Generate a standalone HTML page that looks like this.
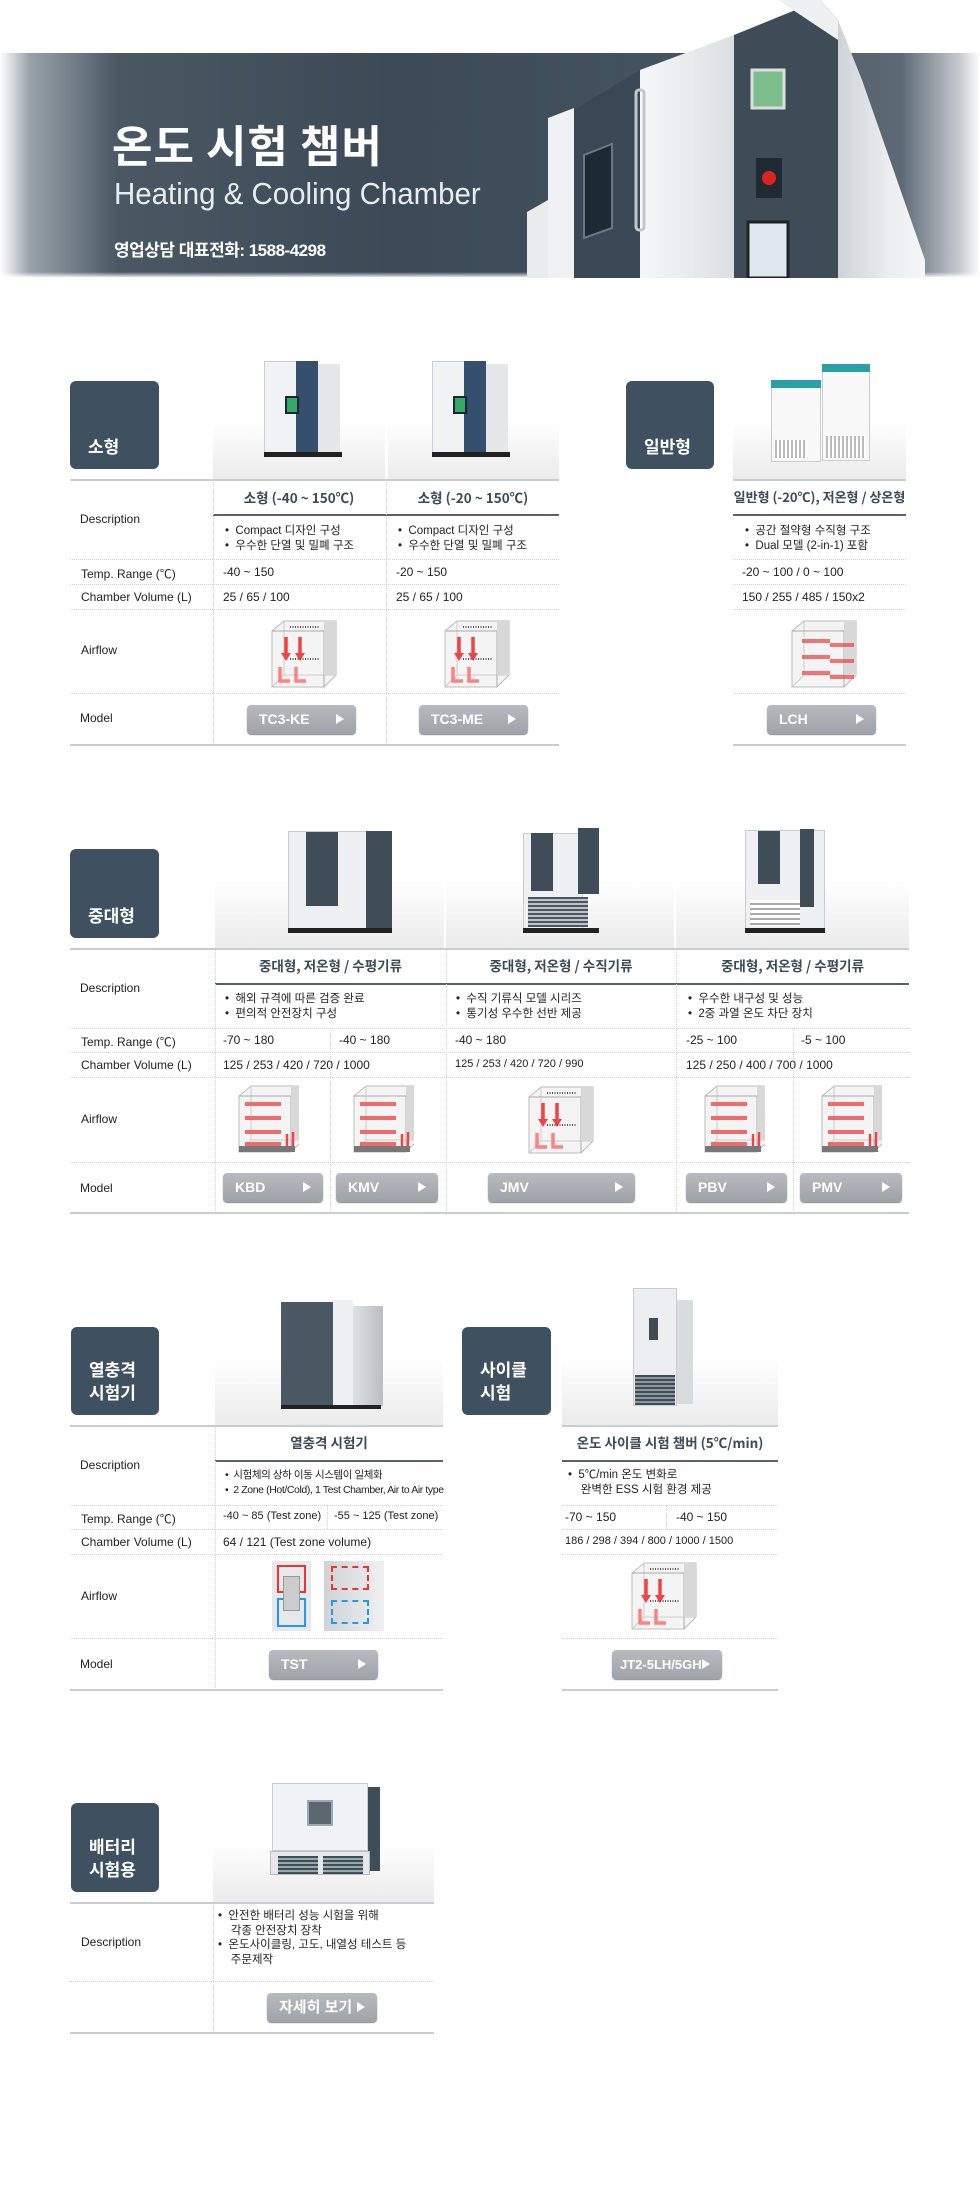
<!DOCTYPE html>
<html><head><meta charset="utf-8">
<style>
*{margin:0;padding:0;box-sizing:border-box}
body{width:980px;height:2200px;background:#fff;position:relative;overflow:hidden;font-family:"Liberation Sans","Noto Sans CJK KR",sans-serif;color:#222}
.a{position:absolute}
.box{position:absolute;background:#3f5060;border-radius:6px;color:#fff;font-weight:bold;font-size:17px;line-height:23px;padding:0 0 12px 18px;display:flex;flex-direction:column;justify-content:flex-end;font-family:"Noto Sans CJK KR",sans-serif}
.ln{position:absolute;height:2px;background:#c9ccd0}
.dk{position:absolute;height:2px;background:#56636f}
.dh{position:absolute;height:0;border-top:1px dotted #d4d4d4}
.dv{position:absolute;width:0;border-left:1px dotted #d4d4d4}
.lb{position:absolute;font-size:12px;color:#222}
.t{position:absolute;font-size:13.5px;color:#3b4a59;font-weight:bold;text-align:center;font-family:"Noto Sans CJK KR",sans-serif}
.d{position:absolute;font-size:11.5px;line-height:15px;color:#222;font-family:"Liberation Sans","Noto Sans CJK KR",sans-serif}
.v{position:absolute;font-size:12px;color:#222}
.btn{position:absolute;background:linear-gradient(#b7bbc0,#9ea3a9);border-radius:4px;color:#fff;font-weight:bold;font-size:14px;line-height:29px;padding-left:12px;box-shadow:0 1px 1px #888;font-family:"Liberation Sans","Noto Sans CJK KR",sans-serif}
.btn:after{content:"";position:absolute;right:12px;top:9px;border-left:8px solid #fff;border-top:5px solid transparent;border-bottom:5px solid transparent}
.img{position:absolute;background:linear-gradient(#fff 50%,#ebebeb)}
</style></head><body>

<!-- banner -->
<div class="a" style="left:0;top:53px;width:980px;height:224px;background:linear-gradient(90deg,#fff 0,#9aa3ab 3%,#4a5864 12%,#3c4a57 40%,#465562 75%,#5d6a76 92%,#c8ccd0 98%,#fff 100%)"></div>
<div class="a" style="left:0;top:272px;width:980px;height:6px;background:linear-gradient(#fff0,#fff)"></div>
<svg class="a" style="left:520px;top:0" width="420" height="278" viewBox="520 0 420 278">
<defs><linearGradient id="sd" x1="0" x2="1"><stop offset="0" stop-color="#cfd3d6"/><stop offset=".6" stop-color="#eceeef"/><stop offset="1" stop-color="#f5f6f7"/></linearGradient>
<linearGradient id="dr" x1="0" x2="1"><stop offset="0" stop-color="#f6f7f8"/><stop offset="1" stop-color="#dcdfe1"/></linearGradient></defs>
<polygon points="527,212 548,200 548,278 527,278" fill="#e9ebed"/>
<polygon points="548,118 574,108 574,278 548,278" fill="#f0f1f2"/>
<polygon points="574,110 640,70 640,278 574,278" fill="#3a4855"/>
<polygon points="584,155 612,144 612,228 584,238" fill="#1d2a35" stroke="#6a7885" stroke-width="2"/>
<polygon points="640,70 734,35 734,278 640,278" fill="url(#dr)"/>
<rect x="636" y="90" width="8" height="140" rx="3" fill="none" stroke="#c2c7cb" stroke-width="3"/>
<polygon points="734,35 820,0 838,20 838,278 734,278" fill="#3e4c58"/>
<rect x="752" y="70" width="32" height="38" fill="#7cbf8c" stroke="#ddd" stroke-width="3"/>
<rect x="756" y="158" width="26" height="40" fill="#1f2a33"/>
<circle cx="769" cy="178" r="7" fill="#d22"/>
<rect x="748" y="222" width="40" height="56" fill="#dfe8f0" stroke="#222" stroke-width="3"/>
<polygon points="838,20 862,80 925,260 925,278 838,278" fill="url(#sd)"/>
<polygon points="778,0 820,0 838,20 838,40" fill="#eef0f1"/>
</svg>
<div class="a" style="left:112px;top:115px;color:#fff;font-size:44px;font-weight:bold;font-family:'Noto Sans CJK KR',sans-serif;letter-spacing:1px;line-height:56px">온도 시험 챔버</div>
<div class="a" style="left:114px;top:176px;color:#e8ecef;font-size:31px;font-family:'Liberation Sans',sans-serif;transform:scaleX(.95);transform-origin:0 0;line-height:36px;white-space:nowrap">Heating &amp; Cooling Chamber</div>
<div class="a" style="left:114px;top:236px;color:#fff;font-size:17px;font-weight:bold;font-family:'Liberation Sans','Noto Sans CJK KR',sans-serif;letter-spacing:-.5px">영업상담 대표전화: 1588-4298</div>

<!-- ===== 소형 ===== -->
<div class="box" style="left:70px;top:381px;width:89px;height:88px">소형</div>
<div class="img" style="left:213px;top:361px;width:172px;height:119px"></div>
<div class="img" style="left:388px;top:361px;width:171px;height:119px"></div>
<div class="a" style="left:264px;top:361px;width:44px;height:95px;background:#f0f2f4;border:1px solid #ccd"></div><div class="a" style="left:296px;top:361px;width:22px;height:95px;background:#34506e"></div><div class="a" style="left:285px;top:396px;width:14px;height:18px;background:#3a6;border:2px solid #223"></div><div class="a" style="left:318px;top:364px;width:22px;height:90px;background:#e4e6e8"></div><div class="a" style="left:264px;top:452px;width:78px;height:5px;background:#222"></div>
<div class="a" style="left:432px;top:361px;width:44px;height:95px;background:#f0f2f4;border:1px solid #ccd"></div><div class="a" style="left:464px;top:361px;width:22px;height:95px;background:#34506e"></div><div class="a" style="left:453px;top:396px;width:14px;height:18px;background:#3a6;border:2px solid #223"></div><div class="a" style="left:486px;top:364px;width:22px;height:90px;background:#e4e6e8"></div><div class="a" style="left:432px;top:452px;width:78px;height:5px;background:#222"></div>

<div class="ln" style="left:70px;top:479px;width:489px"></div>
<div class="t" style="left:213px;top:487px;width:172px">소형 (-40 ~ 150℃)</div>
<div class="t" style="left:387px;top:487px;width:172px">소형 (-20 ~ 150℃)</div>
<div class="dk" style="left:213px;top:514px;width:346px"></div>
<div class="lb" style="left:80px;top:512px">Description</div>
<div class="d" style="left:225px;top:524px">•&nbsp; Compact 디자인 구성<br>•&nbsp; 우수한 단열 및 밀폐 구조</div>
<div class="d" style="left:398px;top:524px">•&nbsp; Compact 디자인 구성<br>•&nbsp; 우수한 단열 및 밀폐 구조</div>
<div class="dh" style="left:70px;top:559px;width:489px"></div>
<div class="lb" style="left:81px;top:565px">Temp. Range (℃)</div>
<div class="v" style="left:223px;top:565px">-40 ~ 150</div><div class="v" style="left:396px;top:565px">-20 ~ 150</div>
<div class="dh" style="left:70px;top:584px;width:489px"></div>
<div class="lb" style="left:81px;top:590px">Chamber Volume (L)</div>
<div class="v" style="left:223px;top:590px">25 / 65 / 100</div><div class="v" style="left:396px;top:590px">25 / 65 / 100</div>
<div class="dh" style="left:70px;top:609px;width:489px"></div>
<div class="lb" style="left:81px;top:643px">Airflow</div>
<div class="dh" style="left:70px;top:693px;width:489px"></div>
<div class="lb" style="left:80px;top:711px">Model</div>
<div class="btn" style="left:247px;top:705px;width:109px;height:29px">TC3-KE</div>
<div class="btn" style="left:419px;top:705px;width:109px;height:29px">TC3-ME</div>
<div class="dv" style="left:213px;top:480px;height:265px"></div>
<div class="dv" style="left:386px;top:480px;height:265px"></div>
<div class="ln" style="left:70px;top:744px;width:489px"></div>

<!-- 일반형 -->
<div class="box" style="left:626px;top:381px;width:88px;height:88px">일반형</div>
<div class="img" style="left:733px;top:361px;width:173px;height:119px"></div>
<div class="a" style="left:771px;top:380px;width:50px;height:82px;background:#f8f8f9;border:1px solid #ccc"></div><div class="a" style="left:771px;top:380px;width:50px;height:8px;background:#29a0a8"></div><div class="a" style="left:775px;top:440px;width:30px;height:18px;background:repeating-linear-gradient(90deg,#bbb 0 2px,#fff 2px 4px)"></div>
<div class="a" style="left:822px;top:364px;width:48px;height:97px;background:#f8f8f9;border:1px solid #ccc"></div><div class="a" style="left:822px;top:364px;width:48px;height:8px;background:#29a0a8"></div><div class="a" style="left:826px;top:436px;width:40px;height:22px;background:repeating-linear-gradient(90deg,#bbb 0 2px,#fff 2px 4px)"></div>
<div class="ln" style="left:733px;top:479px;width:173px"></div>
<div class="t" style="left:733px;top:487px;width:173px;font-size:13px">일반형 (-20℃), 저온형 / 상온형</div>
<div class="dk" style="left:733px;top:514px;width:173px"></div>
<div class="d" style="left:745px;top:524px">•&nbsp; 공간 절약형 수직형 구조<br>•&nbsp; Dual 모델 (2-in-1) 포함</div>
<div class="dh" style="left:733px;top:559px;width:173px"></div>
<div class="v" style="left:742px;top:565px">-20 ~ 100 / 0 ~ 100</div>
<div class="dh" style="left:733px;top:584px;width:173px"></div>
<div class="v" style="left:742px;top:590px">150 / 255 / 485 / 150x2</div>
<div class="dh" style="left:733px;top:609px;width:173px"></div>
<div class="dh" style="left:733px;top:693px;width:173px"></div>
<div class="btn" style="left:767px;top:705px;width:109px;height:29px">LCH</div>
<div class="ln" style="left:733px;top:744px;width:173px"></div>

<!-- ===== 중대형 ===== -->
<div class="box" style="left:70px;top:849px;width:89px;height:89px">중대형</div>
<div class="img" style="left:215px;top:812px;width:229px;height:137px"></div>
<div class="img" style="left:446px;top:812px;width:228px;height:137px"></div>
<div class="img" style="left:676px;top:812px;width:233px;height:137px"></div>
<div class="a" style="left:288px;top:831px;width:80px;height:100px;background:#eef0f1;border:1px solid #ccc"></div><div class="a" style="left:306px;top:832px;width:32px;height:74px;background:#3e4d57"></div><div class="a" style="left:366px;top:831px;width:26px;height:100px;background:#3e4d57"></div><div class="a" style="left:288px;top:928px;width:104px;height:5px;background:#222"></div>
<div class="a" style="left:523px;top:833px;width:60px;height:98px;background:#eef0f1;border:1px solid #ccc"></div><div class="a" style="left:531px;top:833px;width:22px;height:58px;background:#3e4d57"></div><div class="a" style="left:578px;top:828px;width:21px;height:66px;background:#3e4d57"></div><div class="a" style="left:528px;top:897px;width:60px;height:30px;background:repeating-linear-gradient(#4a5660 0 2px,#c0c4c8 2px 4px)"></div><div class="a" style="left:523px;top:928px;width:76px;height:5px;background:#222"></div>
<div class="a" style="left:745px;top:830px;width:80px;height:102px;background:#eef0f1;border:1px solid #ccc"></div><div class="a" style="left:758px;top:831px;width:22px;height:53px;background:#3e4d57"></div><div class="a" style="left:800px;top:829px;width:14px;height:78px;background:#3e4d57"></div><div class="a" style="left:750px;top:900px;width:50px;height:26px;background:repeating-linear-gradient(#fff 0 3px,#aaa 3px 5px)"></div><div class="a" style="left:745px;top:928px;width:80px;height:5px;background:#222"></div>
<div class="ln" style="left:70px;top:948px;width:839px"></div>
<div class="t" style="left:215px;top:955px;width:231px">중대형, 저온형 / 수평기류</div>
<div class="t" style="left:446px;top:955px;width:230px">중대형, 저온형 / 수직기류</div>
<div class="t" style="left:676px;top:955px;width:233px">중대형, 저온형 / 수평기류</div>
<div class="dk" style="left:215px;top:983px;width:694px"></div>
<div class="lb" style="left:80px;top:981px">Description</div>
<div class="d" style="left:225px;top:992px">•&nbsp; 해외 규격에 따른 검증 완료<br>•&nbsp; 편의적 안전장치 구성</div>
<div class="d" style="left:456px;top:992px">•&nbsp; 수직 기류식 모델 시리즈<br>•&nbsp; 통기성 우수한 선반 제공</div>
<div class="d" style="left:688px;top:992px">•&nbsp; 우수한 내구성 및 성능<br>•&nbsp; 2중 과열 온도 차단 장치</div>
<div class="dh" style="left:70px;top:1028px;width:839px"></div>
<div class="lb" style="left:81px;top:1033px">Temp. Range (℃)</div>
<div class="v" style="left:223px;top:1033px">-70 ~ 180</div><div class="v" style="left:339px;top:1033px">-40 ~ 180</div><div class="v" style="left:455px;top:1033px">-40 ~ 180</div><div class="v" style="left:686px;top:1033px">-25 ~ 100</div><div class="v" style="left:801px;top:1033px">-5 ~ 100</div>
<div class="dh" style="left:70px;top:1052px;width:839px"></div>
<div class="lb" style="left:81px;top:1058px">Chamber Volume (L)</div>
<div class="v" style="left:223px;top:1058px">125 / 253 / 420 / 720 / 1000</div><div class="v" style="left:455px;top:1058px;font-size:11px">125 / 253 / 420 / 720 / 990</div><div class="v" style="left:686px;top:1058px">125 / 250 / 400 / 700 / 1000</div>
<div class="dh" style="left:70px;top:1077px;width:839px"></div>
<div class="lb" style="left:81px;top:1112px">Airflow</div>
<div class="dh" style="left:70px;top:1162px;width:839px"></div>
<div class="lb" style="left:80px;top:1181px">Model</div>
<div class="btn" style="left:223px;top:1173px;width:100px;height:29px">KBD</div>
<div class="btn" style="left:336px;top:1173px;width:102px;height:29px">KMV</div>
<div class="btn" style="left:488px;top:1173px;width:147px;height:29px">JMV</div>
<div class="btn" style="left:686px;top:1173px;width:101px;height:29px">PBV</div>
<div class="btn" style="left:800px;top:1173px;width:102px;height:29px">PMV</div>
<div class="dv" style="left:215px;top:949px;height:264px"></div>
<div class="dv" style="left:330px;top:1028px;height:185px"></div>
<div class="dv" style="left:446px;top:949px;height:264px"></div>
<div class="dv" style="left:676px;top:949px;height:264px"></div>
<div class="dv" style="left:793px;top:1028px;height:185px"></div>
<div class="ln" style="left:70px;top:1212px;width:839px"></div>

<!-- ===== 열충격 ===== -->
<div class="box" style="left:71px;top:1327px;width:88px;height:88px">열충격<br>시험기</div>
<div class="img" style="left:215px;top:1290px;width:228px;height:136px"></div>
<div class="a" style="left:281px;top:1302px;width:52px;height:106px;background:#4a5964"></div><div class="a" style="left:333px;top:1300px;width:20px;height:108px;background:#eef0f1"></div><div class="a" style="left:353px;top:1306px;width:30px;height:100px;background:linear-gradient(90deg,#dfe2e4,#b9bec2)"></div><div class="a" style="left:281px;top:1405px;width:100px;height:4px;background:#222"></div>
<div class="ln" style="left:70px;top:1425px;width:373px"></div>
<div class="t" style="left:215px;top:1432px;width:228px">열충격 시험기</div>
<div class="dk" style="left:215px;top:1460px;width:228px"></div>
<div class="lb" style="left:80px;top:1458px">Description</div>
<div class="d" style="left:225px;top:1468px;font-size:10.5px;letter-spacing:-.4px">•&nbsp; 시험체의 상하 이동 시스템이 일체화<br>•&nbsp; 2 Zone (Hot/Cold), 1 Test Chamber, Air to Air type</div>
<div class="dh" style="left:70px;top:1505px;width:373px"></div>
<div class="lb" style="left:81px;top:1510px">Temp. Range (℃)</div>
<div class="v" style="left:223px;top:1510px;font-size:11px">-40 ~ 85 (Test zone)</div><div class="v" style="left:334px;top:1510px;font-size:11px">-55 ~ 125 (Test zone)</div>
<div class="dh" style="left:70px;top:1529px;width:373px"></div>
<div class="lb" style="left:81px;top:1535px">Chamber Volume (L)</div>
<div class="v" style="left:223px;top:1535px">64 / 121 (Test zone volume)</div>
<div class="dh" style="left:70px;top:1554px;width:373px"></div>
<div class="lb" style="left:81px;top:1589px">Airflow</div>
<div class="a" style="left:272px;top:1561px;width:39px;height:70px;background:#e6e8ea"></div><div class="a" style="left:277px;top:1565px;width:29px;height:28px;border:2px solid #e33"></div><div class="a" style="left:277px;top:1598px;width:29px;height:29px;border:2px solid #29e"></div><div class="a" style="left:283px;top:1576px;width:17px;height:35px;background:#ccc;border:1px solid #999"></div>
<div class="a" style="left:324px;top:1561px;width:60px;height:70px;background:linear-gradient(90deg,#cfd3d6,#eef0f1)"></div><div class="a" style="left:331px;top:1566px;width:38px;height:24px;border:2px dashed #e33"></div><div class="a" style="left:331px;top:1600px;width:38px;height:24px;border:2px dashed #29e"></div>
<div class="dh" style="left:70px;top:1638px;width:373px"></div>
<div class="lb" style="left:80px;top:1657px">Model</div>
<div class="btn" style="left:269px;top:1650px;width:109px;height:29px">TST</div>
<div class="dv" style="left:215px;top:1426px;height:264px"></div>
<div class="dv" style="left:327px;top:1505px;height:24px"></div>
<div class="ln" style="left:70px;top:1689px;width:373px"></div>

<!-- 사이클 -->
<div class="box" style="left:462px;top:1327px;width:89px;height:88px">사이클<br>시험</div>
<div class="img" style="left:562px;top:1290px;width:216px;height:136px"></div>
<div class="a" style="left:633px;top:1288px;width:44px;height:118px;background:#eceeef;border:1px solid #ccc"></div><div class="a" style="left:649px;top:1318px;width:9px;height:22px;background:#3e4d57"></div><div class="a" style="left:635px;top:1375px;width:40px;height:30px;background:repeating-linear-gradient(#3e4d57 0 2px,#8e979e 2px 4px)"></div><div class="a" style="left:677px;top:1300px;width:16px;height:104px;background:#d9dcde"></div>
<div class="ln" style="left:562px;top:1425px;width:216px"></div>
<div class="t" style="left:562px;top:1432px;width:216px">온도 사이클 시험 챔버 (5℃/min)</div>
<div class="dk" style="left:562px;top:1460px;width:216px"></div>
<div class="d" style="left:568px;top:1468px">•&nbsp; 5℃/min 온도 변화로<br>&nbsp;&nbsp;&nbsp;&nbsp;완벽한 ESS 시험 환경 제공</div>
<div class="dh" style="left:562px;top:1505px;width:216px"></div>
<div class="v" style="left:565px;top:1510px">-70 ~ 150</div><div class="v" style="left:676px;top:1510px">-40 ~ 150</div>
<div class="dh" style="left:562px;top:1529px;width:216px"></div>
<div class="v" style="left:565px;top:1535px;font-size:11px">186 / 298 / 394 / 800 / 1000 / 1500</div>
<div class="dh" style="left:562px;top:1554px;width:216px"></div>
<div class="dh" style="left:562px;top:1638px;width:216px"></div>
<div class="btn" style="left:612px;top:1650px;width:110px;height:29px;padding-left:8px;font-size:13px">JT2-5LH/5GH</div>
<div class="dv" style="left:666px;top:1505px;height:24px"></div>
<div class="ln" style="left:562px;top:1689px;width:216px"></div>

<!-- ===== 배터리 ===== -->
<div class="box" style="left:71px;top:1803px;width:88px;height:89px">배터리<br>시험용</div>
<div class="img" style="left:213px;top:1780px;width:221px;height:123px"></div>
<div class="a" style="left:272px;top:1783px;width:96px;height:68px;background:#f1f2f4;border:1px solid #ccc"></div><div class="a" style="left:307px;top:1800px;width:26px;height:26px;background:#5a6670;border:2px solid #9ab"></div><div class="a" style="left:368px;top:1787px;width:12px;height:84px;background:#3e4d57"></div><div class="a" style="left:270px;top:1851px;width:100px;height:24px;background:#e6e8ea;border:1px solid #bbb"></div><div class="a" style="left:278px;top:1856px;width:40px;height:18px;background:repeating-linear-gradient(#3e4d57 0 2px,#9aa 2px 4px)"></div><div class="a" style="left:323px;top:1856px;width:40px;height:18px;background:repeating-linear-gradient(#3e4d57 0 2px,#9aa 2px 4px)"></div>
<div class="ln" style="left:70px;top:1902px;width:364px"></div>
<div class="lb" style="left:81px;top:1935px">Description</div>
<div class="d" style="left:218px;top:1909px;line-height:14.5px">•&nbsp; 안전한 배터리 성능 시험을 위해<br>&nbsp;&nbsp;&nbsp;&nbsp;각종 안전장치 장착<br>•&nbsp; 온도사이클링, 고도, 내열성 테스트 등<br>&nbsp;&nbsp;&nbsp;&nbsp;주문제작</div>
<div class="dh" style="left:70px;top:1981px;width:364px"></div>
<div class="btn" style="left:267px;top:1993px;width:110px;height:29px;font-size:15px">자세히 보기</div>
<div class="dv" style="left:213px;top:1903px;height:130px"></div>
<div class="ln" style="left:70px;top:2032px;width:364px"></div>

<!-- airflow icons -->
<svg width="0" height="0" style="position:absolute"><defs>
<g id="cube"><path d="M2 12 L14 2 L66 2 L66 56 L54 68 L2 68Z" fill="#f4f4f4" stroke="#bbb"/><path d="M14 2 V56 H66 M14 56 L2 68" fill="none" stroke="#ccc"/><path d="M54 12 L66 2 M2 12 H54 V68" fill="none" stroke="#aaa"/><rect x="54" y="2" width="12" height="54" fill="#d8d8d8"/></g>
<g id="vert"><path d="M16 18 V36 M30 18 V36" stroke="#e44" stroke-width="3.5"/><path d="M11 34 L16 42 L21 34Z M25 34 L30 42 L35 34Z" fill="#e44"/><path d="M10 48 V62 H20 M26 48 V62 H36" fill="none" stroke="#f66" stroke-width="3.5" opacity=".8"/><path d="M20 8 H50 M20 40 H50" stroke="#555" stroke-width="2" stroke-dasharray="1 1.5"/></g>
<g id="horz"><path d="M8 20 H44 M8 34 H44 M8 48 H44 M8 60 H44" stroke="#e55" stroke-width="4" opacity=".85"/><path d="M50 64 V50 M56 64 V48" stroke="#e44" stroke-width="2.5"/><rect x="2" y="62" width="56" height="6" fill="#777"/></g>
</defs></svg>
<svg class="a" style="left:270px;top:619px" width="70" height="70"><use href="#cube"/><use href="#vert"/></svg>
<svg class="a" style="left:443px;top:619px" width="70" height="70"><use href="#cube"/><use href="#vert"/></svg>
<svg class="a" style="left:790px;top:619px" width="70" height="70"><use href="#cube"/><path d="M12 22 H40 M12 38 H40 M12 54 H40 M40 26 H64 M40 42 H64 M40 58 H64" stroke="#e55" stroke-width="4" opacity=".8"/></svg>
<svg class="a" style="left:237px;top:1084px" width="62" height="72"><use href="#cube"/><use href="#horz"/></svg>
<svg class="a" style="left:352px;top:1084px" width="62" height="72"><use href="#cube"/><use href="#horz"/></svg>
<svg class="a" style="left:527px;top:1085px" width="70" height="72"><use href="#cube"/><use href="#vert"/></svg>
<svg class="a" style="left:703px;top:1084px" width="62" height="72"><use href="#cube"/><use href="#horz"/></svg>
<svg class="a" style="left:820px;top:1084px" width="62" height="72"><use href="#cube"/><use href="#horz"/></svg>
<svg class="a" style="left:630px;top:1561px" width="70" height="70"><use href="#cube"/><use href="#vert"/></svg>
</body></html>
